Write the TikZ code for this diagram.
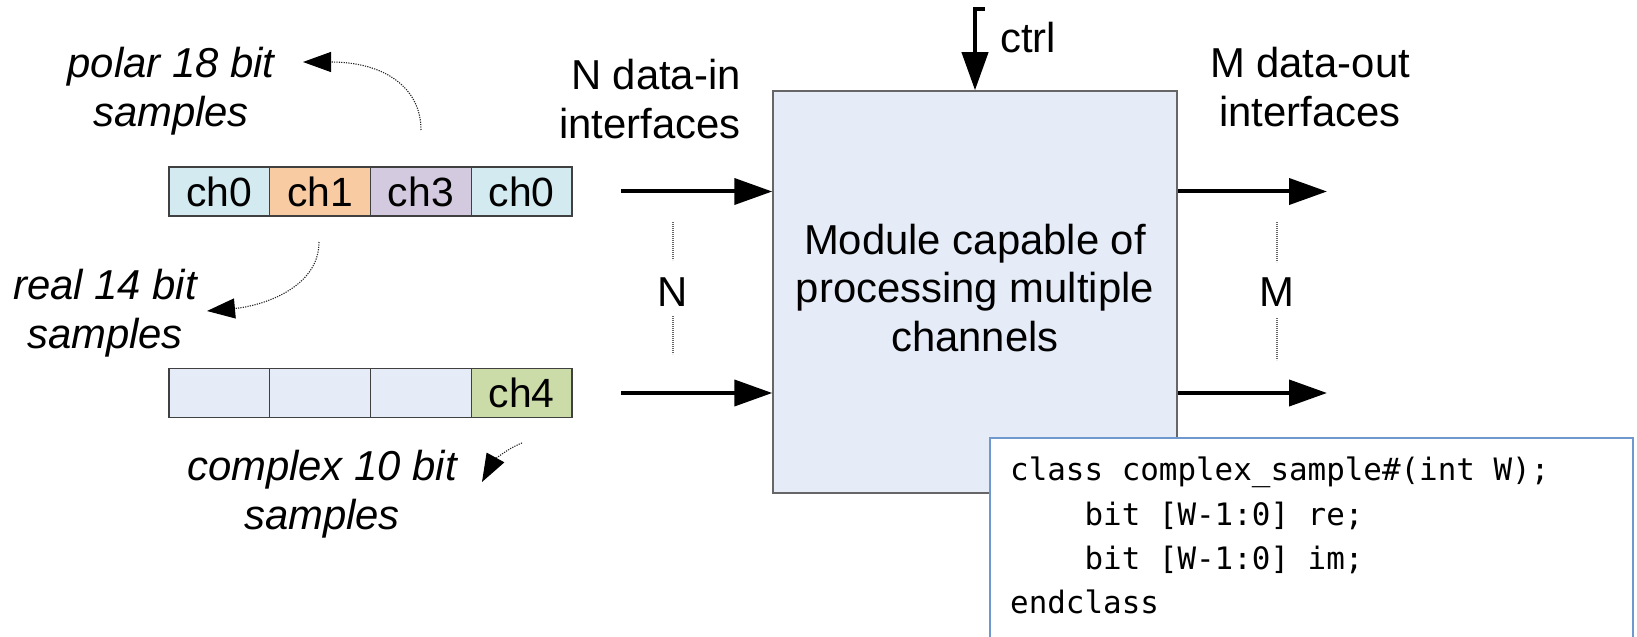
\documentclass[tikz,border=0pt]{standalone}
\usepackage{fontspec}
\setmainfont{Liberation Sans}
\newfontfamily\codefont{DejaVu Sans Mono}
\usetikzlibrary{arrows.meta}

\definecolor{chzero}{HTML}{D2EAF0}
\definecolor{chone}{HTML}{F9CBA3}
\definecolor{chthree}{HTML}{D4CADF}
\definecolor{chfour}{HTML}{CCDCA8}
\definecolor{emptycell}{HTML}{E6ECF7}
\definecolor{modfill}{HTML}{E6ECF7}
\definecolor{codeframe}{HTML}{6F98CF}

\tikzset{
  cell/.style={draw=black!75, line width=1.3bp, minimum width=100.75bp,
    minimum height=49bp, inner sep=0pt,
    font=\fontsize{41}{49}\selectfont},
  samplelabel/.style={align=center, inner sep=0pt,
    font=\fontsize{42}{49}\selectfont\itshape},
  plainlabel/.style={inner sep=0pt, font=\fontsize{42}{49}\selectfont},
  flow/.style={line width=4bp, -{Triangle[length=38bp,width=26bp]}},
  hint/.style={line width=1.1bp, black!85, dash pattern=on 1.2bp off 1.2bp,
    -{Triangle[length=28bp,width=20bp,fill=black,color=black]}},
  ellipsis/.style={line width=1.1bp, black!60, dash pattern=on 1bp off 1bp},
}

\begin{document}
\begin{tikzpicture}[x=1bp,y=-1bp]
\useasboundingbox (0,0) rectangle (1637,637);

% processing module
\node[draw=black!60, line width=1.5bp, fill=modfill,
      minimum width=404bp, minimum height=402bp, inner sep=0pt]
  (module) at (975,292) {};
\node[align=center, inner sep=0pt, font=\fontsize{42}{49}\selectfont]
  (modtext) at (975,288) {Module capable of\\processing multiple\\channels};

% control input
\coordinate (ctrltop) at (985,9);
\draw[flow] (ctrltop) -| (module.north);
\node[plainlabel, anchor=west] (ctrl) at (1000,38) {ctrl};

% upper sample stream
\node[cell, fill=chzero]   (a1) at (219.4,191.5) {ch0};
\node[cell, fill=chone]    (a2) at (320.1,191.5) {ch1};
\node[cell, fill=chthree]  (a3) at (420.9,191.5) {ch3};
\node[cell, fill=chzero]   (a4) at (521.6,191.5) {ch0};

% lower sample stream
\node[cell, fill=emptycell] (b1) at (219.4,393) {};
\node[cell, fill=emptycell] (b2) at (320.1,393) {};
\node[cell, fill=emptycell] (b3) at (420.9,393) {};
\node[cell, fill=chfour]    (b4) at (521.6,393) {ch4};

% sample format notes
\node[samplelabel] (polar) at (171,91) {polar 18 bit\\samples};
\node[samplelabel] (real) at (105,313) {real 14 bit\\samples};
\node[samplelabel] (cplx) at (322,494) {complex 10 bit\\samples};

\coordinate (polarfrom) at (421,130);
\coordinate (polarto) at (303,62);
\draw[hint] (polarfrom) .. controls (421,88) and (385,62) .. (polarto);

\coordinate (realfrom) at (319,242);
\coordinate (realto) at (207,311);
\draw[hint] (realfrom) .. controls (319,288) and (262,306) .. (realto);

\coordinate (cplxfrom) at (522,443);
\coordinate (cplxto) at (482,482);
\draw[hint] (cplxfrom) .. controls (506,449) and (493,462) .. (cplxto);

% data-in interfaces
\node[plainlabel, align=right, anchor=east] (inlabel) at (741,99)
  {N data-in\\interfaces};
\coordinate (in1) at (621,191.5);
\coordinate (in2) at (621,393);
\draw[flow] (in1) -- (in1 -| module.west);
\draw[flow] (in2) -- (in2 -| module.west);
\node[plainlabel] (nin) at (673,292) {N};
\coordinate (nt1) at (673,222);
\coordinate (nt2) at (673,260);
\coordinate (nb1) at (673,316);
\coordinate (nb2) at (673,354);
\draw[ellipsis] (nt1) -- (nt2);
\draw[ellipsis] (nb1) -- (nb2);

% data-out interfaces
\node[plainlabel, align=center] (outlabel) at (1310,87)
  {M data-out\\interfaces};
\coordinate (out1) at (1327,191.5);
\coordinate (out2) at (1327,393);
\draw[flow] (out1 -| module.east) -- (out1);
\draw[flow] (out2 -| module.east) -- (out2);
\node[plainlabel] (mout) at (1277,292) {M};
\coordinate (mt1) at (1277,222);
\coordinate (mt2) at (1277,262);
\coordinate (mb1) at (1277,318);
\coordinate (mb2) at (1277,360);
\draw[ellipsis] (mt1) -- (mt2);
\draw[ellipsis] (mb1) -- (mb2);

% sample type declaration
\node[draw=codeframe, line width=2bp, fill=white, anchor=north west,
      minimum width=643bp, minimum height=215bp, inner sep=0pt]
  (codebox) at (989,437) {};
\node[anchor=north west, inner sep=0pt, align=left,
      font=\fontsize{31}{44.5}\selectfont\codefont]
  (code) at ([xshift=21bp,yshift=-20bp]codebox.north west)
  {class complex\_sample\#(int W);\\
   \phantom{1234}bit [W-1:0] re;\\
   \phantom{1234}bit [W-1:0] im;\\
   endclass};
\end{tikzpicture}
\end{document}
